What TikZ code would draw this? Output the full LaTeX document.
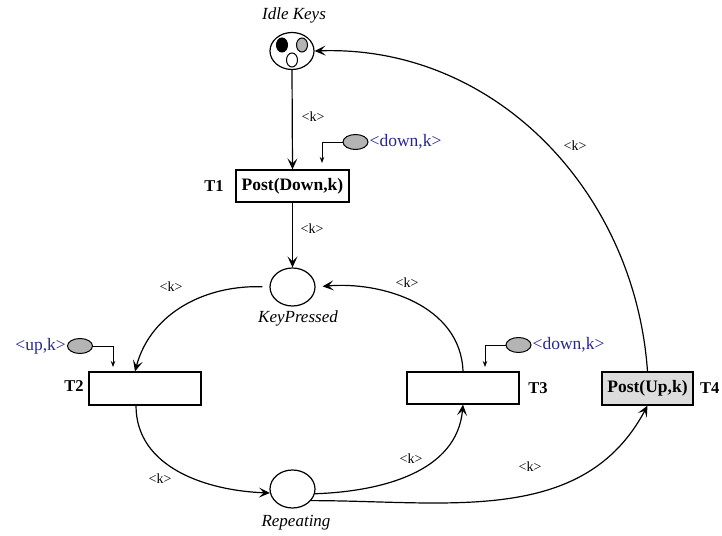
\documentclass[tikz,border=0pt]{standalone}
\usepackage{fontspec}
\setmainfont{Liberation Serif}
\usepackage{xcolor}
\definecolor{netBlue}{HTML}{26268F}
\definecolor{netToken}{HTML}{B4B4B4}
\definecolor{netFill}{HTML}{DCDCDC}
\usetikzlibrary{arrows.meta,positioning,calc,shapes.geometric}

\begin{document}
\begin{tikzpicture}[
  x=1pt, y=1pt,
  place/.style={draw, ellipse, line width=1.2pt, inner sep=0pt},
  token/.style={draw, ellipse, line width=1pt, minimum width=11pt, minimum height=14pt, inner sep=0pt},
  trans/.style={draw, line width=1.2pt, minimum height=32pt, inner sep=2pt, font=\fontsize{17.5}{19}\selectfont\bfseries},
  tname/.style={font=\fontsize{16.5}{18}\selectfont\bfseries},
  pname/.style={font=\fontsize{17}{19}\selectfont\itshape},
  arc/.style={line width=1.2pt, -{Stealth[length=11pt,width=10pt,inset=5pt]}},
  guard/.style={draw, ellipse, fill=netToken, line width=1pt, minimum width=25pt, minimum height=15pt, inner sep=0pt},
  guardarc/.style={line width=0.9pt, -{Stealth[length=6pt,width=4.5pt]}},
  glabel/.style={text=netBlue, font=\fontsize{17.5}{19}\selectfont, inner sep=1pt},
  klabel/.style={font=\fontsize{14}{16}\selectfont, inner sep=1pt}
]
\useasboundingbox (0,0) rectangle (722,535);

% Places
\node[place, minimum width=44pt, minimum height=37pt] (idle) at (292,484) {};
\node[token, fill=black] (tok1) at (282,490) {};
\node[token, fill=netToken] (tok2) at (302,490) {};
\node[token, fill=white] (tok3) at (292,475) {};
\node[pname] (idlelbl) at (294,520) {Idle Keys};

\node[place, minimum width=45pt, minimum height=38pt] (pressed) at (292.5,248) {};
\node[pname] (pressedlbl) at (298,217) {KeyPressed};

\node[place, minimum width=45pt, minimum height=38pt] (rep) at (292.5,46) {};
\node[pname] (replbl) at (296,12) {Repeating};

% Transitions
\node[trans, minimum width=113pt] (t1) at (292.5,349) {Post(Down,k)};
\node[tname] (t1lbl) at (214,349) {T1};
\node[trans, minimum width=112pt, minimum height=33pt] (t2) at (145,146.5) {};
\node[tname] (t2lbl) at (74,149) {T2};
\node[trans, minimum width=112pt] (t3) at (463,147) {};
\node[tname] (t3lbl) at (538,147) {T3};
\node[trans, minimum width=91pt, minimum height=33pt, fill=netFill] (t4) at (647.5,146.5) {Post(Up,k)};
\node[tname, anchor=west, inner sep=0pt] (t4lbl) at (700,147) {T4};

% Guards
\node[guard] (g1) at (355.5,393) {};
\node[glabel, anchor=west] (g1lbl) at (g1.east) {<down,k>};
\coordinate (g1end) at (322,372);
\draw[guardarc] (g1.west) -| (g1end);

\node[guard] (g2) at (80,189) {};
\node[glabel, anchor=east] (g2lbl) at (g2.west) {<up,k>};
\coordinate (g2end) at (113,168);
\draw[guardarc] (g2.east) -| (g2end);

\node[guard] (g3) at (518.5,190) {};
\node[glabel, anchor=west] (g3lbl) at (g3.east) {<down,k>};
\coordinate (g3end) at (485,168);
\draw[guardarc] (g3.west) -| (g3end);

% Arcs
\draw[arc] (idle.south) -- (t1.north);
\draw[arc] (t1.south) -- (pressed.north);
\draw[arc, shorten <=7pt] (pressed.west) to[out=178,in=75] ([xshift=-10pt]t2.north);
\draw[arc, shorten >=7pt] (t3.north) to[out=92,in=5] (pressed.east);
\draw[arc] (t4.north) to[out=94,in=2] (idle.east);
\draw[arc] ([xshift=-9pt]t2.south) to[out=-90,in=178] (rep.190);
\draw[arc] (rep.-12) to[out=2,in=-95] (t3.south);
\draw[arc] (rep.-32) to[out=0,in=-118] (t4.south);

% Arc labels
\node[klabel] (k1) at (313,418) {<k>};
\node[klabel] (k2) at (312,306) {<k>};
\node[klabel] (k3) at (171,248) {<k>};
\node[klabel] (k4) at (407,252) {<k>};
\node[klabel] (k5) at (575,389) {<k>};
\node[klabel] (k6) at (160,56) {<k>};
\node[klabel] (k7) at (411,76) {<k>};
\node[klabel] (k8) at (530,68) {<k>};

\end{tikzpicture}
\end{document}
